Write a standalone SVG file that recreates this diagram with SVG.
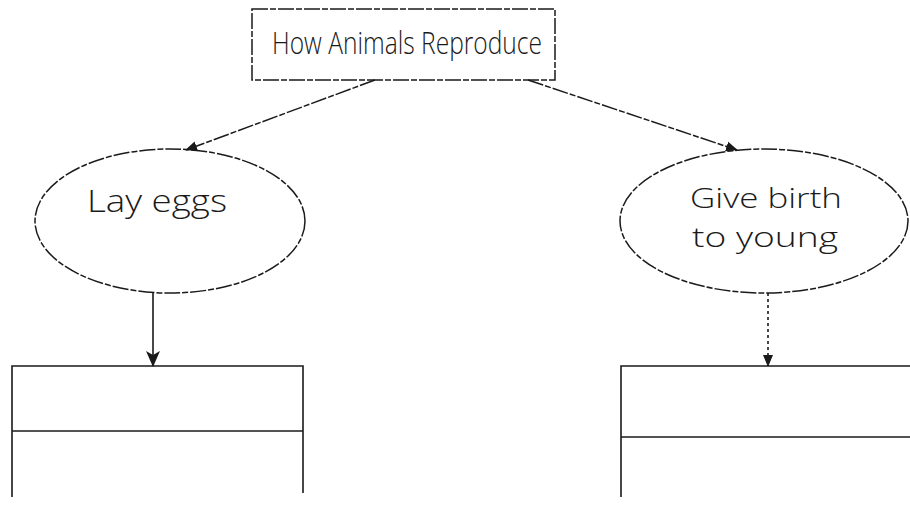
<svg xmlns="http://www.w3.org/2000/svg" width="910" height="505" viewBox="0 0 910 505">
<style>
.ln{fill:none;stroke:#1a1a1a;stroke-width:1.6}
.dl{fill:none;stroke:#1a1a1a;stroke-width:1.5;stroke-dasharray:16 2 6 2}
.tx{font-family:"Open Sans","DejaVu Sans",sans-serif;font-weight:300;font-size:31px;fill:#1a1a1a;text-anchor:middle}
.sm{font-size:27px}
</style>
<defs>
<marker id="ah" viewBox="0 0 12 12" refX="11" refY="6" markerWidth="12" markerHeight="12" markerUnits="userSpaceOnUse" orient="auto">
<path d="M0,1 L12,6 L0,11 Z" fill="#1a1a1a"/>
</marker>
<marker id="ahd" viewBox="0 0 16 16" refX="15" refY="8" markerWidth="16" markerHeight="16" markerUnits="userSpaceOnUse" orient="auto">
<path d="M0,1 L16,8 L0,15 L4,8 Z" fill="#1a1a1a"/>
</marker>
</defs>
<rect width="910" height="505" fill="#fff"/>
<g id="connectors">
<line class="dl" x1="375" y1="80" x2="186" y2="150" marker-end="url(#ah)"/>
<line class="dl" x1="528" y1="80" x2="737" y2="150" marker-end="url(#ah)"/>
<line class="ln" x1="153" y1="293" x2="153" y2="366" marker-end="url(#ahd)" stroke-width="2"/>
<line class="ln" x1="768" y1="293" x2="768" y2="366" marker-end="url(#ah)" stroke-dasharray="3 3"/>
</g>
<g id="title">
<rect class="dl" x="252" y="9" width="303" height="71"/>
<text class="tx" x="407" y="54" font-size="32" textLength="270" lengthAdjust="spacingAndGlyphs">How Animals Reproduce</text>
</g>
<g id="lay-eggs">
<ellipse class="dl" cx="170" cy="221" rx="135" ry="72"/>
<text class="tx" x="157" y="212" textLength="140" lengthAdjust="spacingAndGlyphs">Lay eggs</text>
</g>
<g id="give-birth">
<ellipse class="dl" cx="764" cy="221" rx="144" ry="72"/>
<text class="tx sm" x="766" y="208" textLength="152" lengthAdjust="spacingAndGlyphs">Give birth</text>
<text class="tx sm" x="765" y="247" textLength="146" lengthAdjust="spacingAndGlyphs">to young</text>
</g>
<g id="left-box">
<polyline class="ln" points="12,497 12,366 303,366 303,493"/>
<line class="ln" x1="12" y1="431" x2="303" y2="431"/>
</g>
<g id="right-box">
<polyline class="ln" points="621,497 621,366 912,366"/>
<line class="ln" x1="621" y1="437" x2="912" y2="437"/>
</g>
</svg>
